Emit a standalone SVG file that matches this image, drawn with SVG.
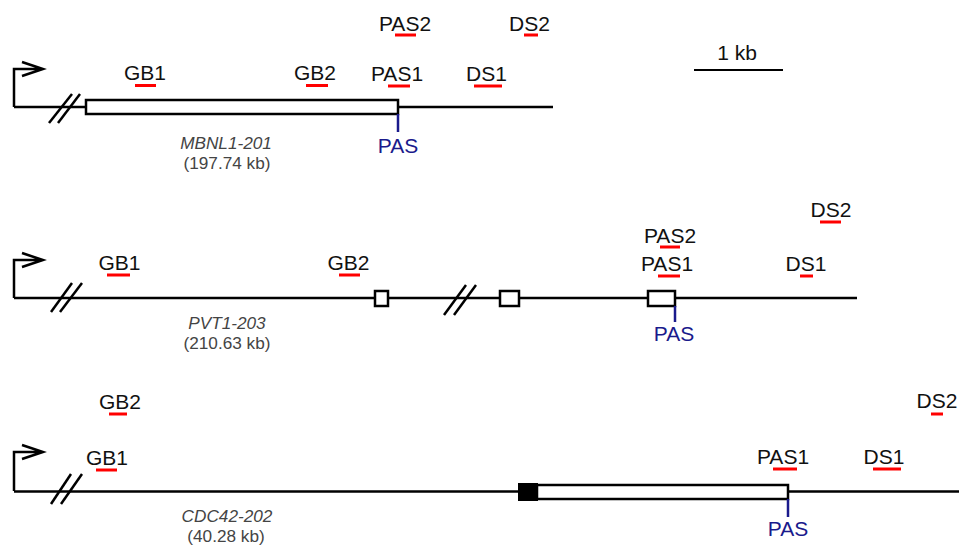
<svg xmlns="http://www.w3.org/2000/svg" width="959" height="545" viewBox="0 0 959 545">
  <style>
    .ln { stroke: #000; stroke-width: 2.5; fill: none; }
    .ex { stroke: #000; stroke-width: 2.5; fill: #fff; }
    .cds { stroke: #000; stroke-width: 2; fill: #000; }
    .pas { stroke: #1a1a8c; stroke-width: 2.5; }
    .lbl { font-family: "Liberation Sans", Arial, sans-serif; font-size: 21px; fill: #111; text-anchor: middle; }
    .pt { font-family: "Liberation Sans", Arial, sans-serif; font-size: 21px; fill: #1a1a8c; text-anchor: middle; }
    .nm { font-family: "Liberation Sans", Arial, sans-serif; font-size: 17.2px; fill: #444; text-anchor: middle; }
    .it { font-style: italic; }
    .bar { stroke: #f00; stroke-width: 3; }
  </style>
  <rect width="959" height="545" fill="#fff"/>

  <!-- scale bar -->
  <g id="scale">
    <text class="lbl" x="737" y="60">1 kb</text>
    <line x1="694" y1="70" x2="783" y2="70" stroke="#000" stroke-width="2"/>
  </g>

  <!-- MBNL1-201 -->
  <g id="mbnl1">
    <g id="mbnl1-gene">
      <path class="ln" d="M14,107 V69 H43 M22,62 L43,69 L22,76"/>
      <line class="ln" x1="14" y1="107" x2="86" y2="107"/>
      <line class="ln" x1="49" y1="123" x2="72" y2="94"/>
      <line class="ln" x1="58" y1="123" x2="80" y2="94"/>
      <rect class="ex" x="86" y="100" width="312" height="14"/>
      <line class="ln" x1="398" y1="107" x2="553" y2="107"/>
      <line class="pas" x1="398" y1="114" x2="398" y2="132"/>
      <text class="pt" x="398" y="153">PAS</text>
      <text class="nm it" x="226" y="149">MBNL1-201</text>
      <text class="nm" x="227" y="168.5">(197.74 kb)</text>
    </g>
    <g id="mbnl1-amplicons">
      <text class="lbl" x="145" y="80">GB1</text><line class="bar" x1="135" y1="85.5" x2="156" y2="85.5"/>
      <text class="lbl" x="315" y="80">GB2</text><line class="bar" x1="306" y1="85.5" x2="328" y2="85.5"/>
      <text class="lbl" x="397" y="81">PAS1</text><line class="bar" x1="388" y1="86" x2="410" y2="86"/>
      <text class="lbl" x="486.5" y="81">DS1</text><line class="bar" x1="474" y1="86" x2="502" y2="86"/>
      <text class="lbl" x="405" y="31">PAS2</text><line class="bar" x1="395" y1="35" x2="416" y2="35"/>
      <text class="lbl" x="529.5" y="31">DS2</text><line class="bar" x1="524" y1="35" x2="538" y2="35"/>
    </g>
  </g>

  <!-- PVT1-203 -->
  <g id="pvt1">
    <g id="pvt1-gene">
      <path class="ln" d="M14,298 V260 H43 M22,253 L43,260 L22,267"/>
      <line class="ln" x1="14" y1="298" x2="857" y2="298"/>
      <line class="ln" x1="51" y1="312" x2="72" y2="283"/>
      <line class="ln" x1="60" y1="312" x2="82" y2="283"/>
      <rect class="ex" x="375" y="291" width="13" height="15"/>
      <line class="ln" x1="444" y1="315" x2="466" y2="285"/>
      <line class="ln" x1="454" y1="315" x2="476" y2="285"/>
      <rect class="ex" x="500" y="291" width="19" height="15"/>
      <rect class="ex" x="648" y="291" width="27" height="15"/>
      <line class="pas" x1="675" y1="306" x2="675" y2="322"/>
      <text class="pt" x="674" y="341">PAS</text>
      <text class="nm it" x="227" y="329">PVT1-203</text>
      <text class="nm" x="227" y="349">(210.63 kb)</text>
    </g>
    <g id="pvt1-amplicons">
      <text class="lbl" x="119.5" y="270">GB1</text><line class="bar" x1="107" y1="275" x2="130" y2="275"/>
      <text class="lbl" x="348.5" y="270">GB2</text><line class="bar" x1="339" y1="275" x2="360" y2="275"/>
      <text class="lbl" x="667" y="271">PAS1</text><line class="bar" x1="658" y1="276" x2="680" y2="276"/>
      <text class="lbl" x="670" y="243">PAS2</text><line class="bar" x1="660" y1="247" x2="680" y2="247"/>
      <text class="lbl" x="806" y="271">DS1</text><line class="bar" x1="800" y1="276" x2="813" y2="276"/>
      <text class="lbl" x="831" y="217">DS2</text><line class="bar" x1="820" y1="222" x2="841" y2="222"/>
    </g>
  </g>

  <!-- CDC42-202 -->
  <g id="cdc42">
    <g id="cdc42-gene">
      <path class="ln" d="M14,491 V452 H43 M22,445 L43,452 L22,459"/>
      <line class="ln" x1="14" y1="491.5" x2="959" y2="491.5"/>
      <line class="ln" x1="51" y1="504" x2="71" y2="474"/>
      <line class="ln" x1="61" y1="504" x2="82" y2="474"/>
      <rect class="ex" x="537" y="485" width="251" height="14"/>
      <rect class="cds" x="519" y="484" width="18" height="16"/>
      <line class="pas" x1="788" y1="499" x2="788" y2="517"/>
      <text class="pt" x="788" y="536">PAS</text>
      <text class="nm it" x="227" y="522">CDC42-202</text>
      <text class="nm" x="226" y="542">(40.28 kb)</text>
    </g>
    <g id="cdc42-amplicons">
      <text class="lbl" x="120" y="409">GB2</text><line class="bar" x1="109" y1="414" x2="127" y2="414"/>
      <text class="lbl" x="107" y="465">GB1</text><line class="bar" x1="96" y1="470" x2="117" y2="470"/>
      <text class="lbl" x="783" y="464">PAS1</text><line class="bar" x1="773" y1="469" x2="797" y2="469"/>
      <text class="lbl" x="884" y="464">DS1</text><line class="bar" x1="873" y1="469" x2="901" y2="469"/>
      <text class="lbl" x="937" y="408">DS2</text><line class="bar" x1="931" y1="414" x2="943" y2="414"/>
    </g>
  </g>
</svg>
